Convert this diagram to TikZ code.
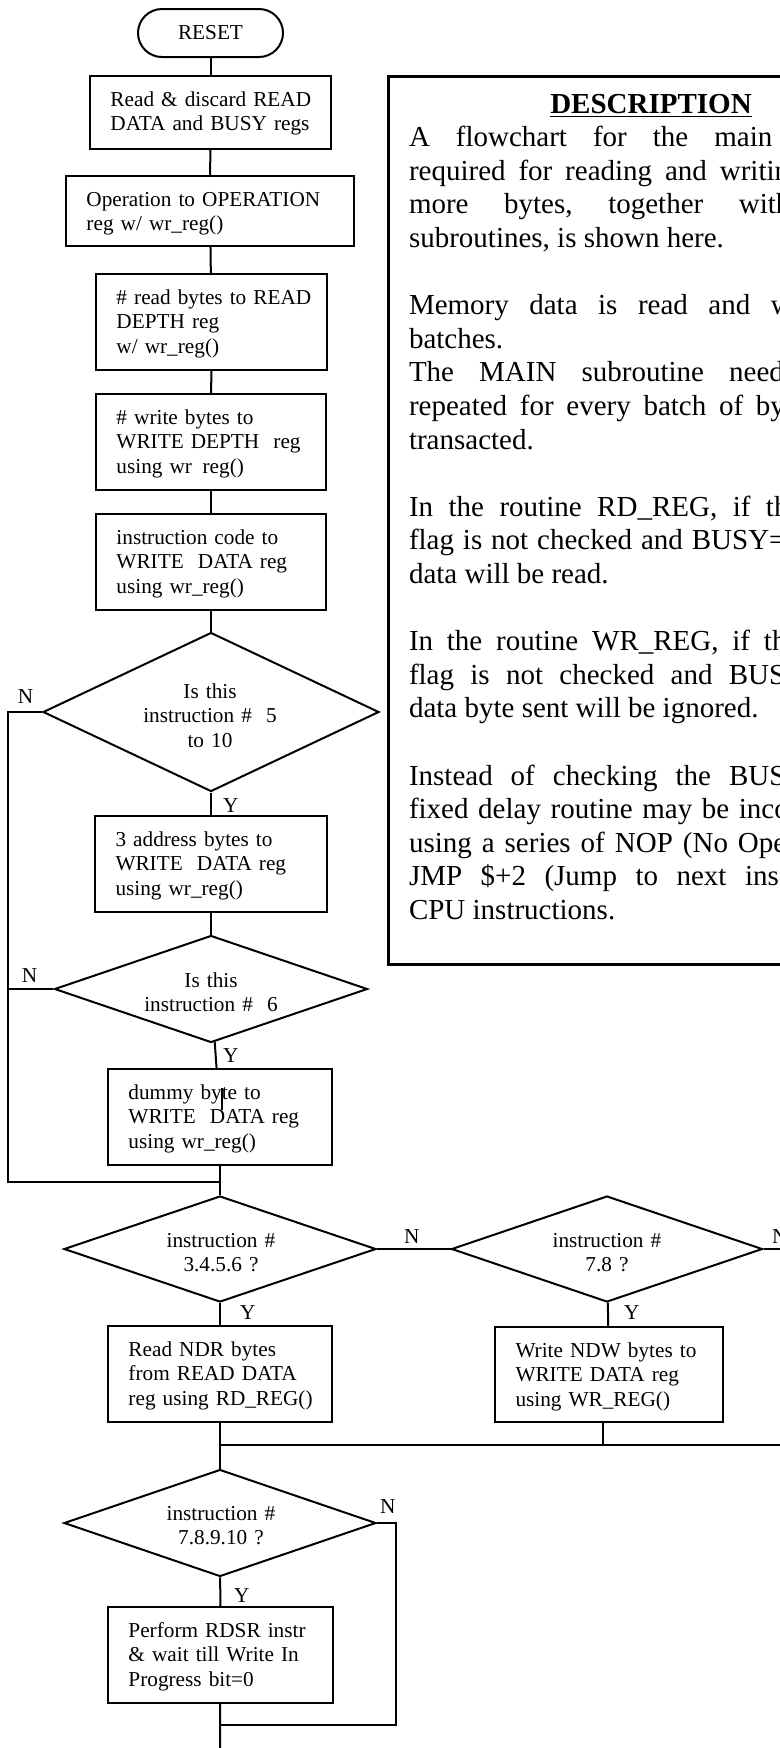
\documentclass[tikz,border=0pt]{standalone}
\usepackage{fontspec}
\setmainfont{Liberation Serif}
\usetikzlibrary{shapes.geometric}
\newdimen\pu \pu=0.4pt
\frenchspacing

\begin{document}
\begin{tikzpicture}[x=0.4pt,y=-0.4pt,line width=0.8pt,
  flow/.style={font=\fontsize{8.5}{9.84}\selectfont},
  desc/.style={font=\fontsize{11.6}{13.44}\selectfont},
  term/.style={flow,draw,rectangle,rounded corners=9.6pt,minimum width=58pt,minimum height=19.2pt,inner sep=0pt},
  pbox/.style 2 args={flow,draw,rectangle,anchor=north,inner xsep=8.2pt,inner ysep=0pt,align=left,text width=#1,text height=12pt,text depth=#2},
  dia/.style 2 args={draw,diamond,inner sep=0pt,minimum width=#1,minimum height=#2},
  dtxt/.style={flow,align=center,text width=64pt,anchor=base,inner sep=0pt},
  lab/.style={flow,anchor=base west,inner sep=0pt},
  dline/.style={desc,anchor=base west,inner sep=0pt}]
  \useasboundingbox (0,0) rectangle (780,1748);
  \clip (0,0) rectangle (780,1748);

  \node[draw,line width=1.1pt,anchor=north west,inner sep=0pt,minimum width=211.2pt,minimum height=355.2pt] (desc) at (387,75) {};
  \node[desc,anchor=base,inner sep=0pt] (dhead) at (651,113) {\bfseries\underline{DESCRIPTION}};
  \foreach \k/\g/\t in {1/26/{A flowchart for the main},
    2/12.9/{required for reading and writin},
    3/35.6/{more bytes, together with},
    4/0/{subroutines, is shown here.},
    6/20.5/{Memory data is read and w},
    7/0/{batches.},
    8/25.1/{The MAIN subroutine need},
    9/12.7/{repeated for every batch of by},
    10/0/{transacted.},
    12/15.5/{In the routine RD\_REG, if th},
    13/8.9/{flag is not checked and BUSY=},
    14/0/{data will be read.},
    16/13.8/{In the routine WR\_REG, if th},
    17/16.3/{flag is not checked and BUS},
    18/0/{data byte sent will be ignored.},
    20/18/{Instead of checking the BUS},
    21/9.6/{fixed delay routine may be inco},
    22/10/{using a series of NOP (No Ope},
    23/18.5/{JMP \$+2 (Jump to next ins},
    24/0/{CPU instructions.}}
    \node[dline] (dl\k) at (408,113+33.6*\k) {\spaceskip=\g\pu\relax\t};

  \node[term] (rst) at (210.5,33) {RESET};
  \node[pbox={80pt}{17.2pt}] (b1) at (210.5,75) {\mbox{Read \& discard READ}\\DATA and BUSY regs};
  \node[pbox={98.8pt}{16pt}] (b2) at (210,175) {Operation to OPERATION\\reg w/ wr\_reg()};
  \node[pbox={76pt}{26.4pt}] (b3) at (211.5,273) {\mbox{\# read bytes to READ}\\DEPTH reg\\w/ wr\_reg()};
  \node[pbox={75.6pt}{26.4pt}] (b4) at (211,393) {\# write bytes to\\WRITE DEPTH~ reg\\using wr\phantom{\_}reg()};
  \node[pbox={75.6pt}{26.4pt}] (b5) at (211,513) {instruction code to\\WRITE~ DATA reg\\using wr\_reg()};
  \node[dia={134.4pt}{63.6pt}] (d1) at (211,712) {};
  \node[dtxt] (t1) at (210,698) {Is this\\instruction \#~ 5\\to 10};
  \node[pbox={76.4pt}{26.4pt}] (b6) at (211,815) {3 address bytes to\\WRITE~ DATA reg\\using wr\_reg()};
  \node[dia={125.2pt}{42.8pt}] (d2) at (211,989) {};
  \node[dtxt] (t2) at (211,987) {Is this\\instruction \#~ 6};
  \node[pbox={73.2pt}{26.4pt}] (b7) at (220,1068) {dummy byte to\\WRITE~ DATA reg\\using wr\_reg()};
  \node[dia={124.8pt}{42.4pt}] (d3) at (220,1249) {};
  \node[dtxt] (t3) at (221,1247) {instruction \#\\3.4.5.6 ?};
  \node[dia={124.4pt}{42.4pt}] (d4) at (607,1249) {};
  \node[dtxt] (t4) at (607,1247) {instruction \#\\7.8 ?};
  \node[pbox={73.2pt}{26.4pt}] (b8) at (220,1325) {Read NDR bytes\\from READ DATA\\\mbox{reg using RD\_REG()}};
  \node[pbox={74.8pt}{26pt}] (b9) at (609,1326) {Write NDW bytes to\\WRITE DATA reg\\using WR\_REG()};
  \node[dia={124.8pt}{42.8pt}] (d5) at (220,1523) {};
  \node[dtxt] (t5) at (221,1520) {instruction \#\\7.8.9.10 ?};
  \node[pbox={73.6pt}{26.4pt}] (b10) at (220.5,1606) {Perform RDSR instr\\\& wait till Write In\\Progress bit=0};

  \foreach \n/\l/\x/\y in {n1/N/17/703,y1/Y/222/812,n2/N/21/982,y2/Y/222/1062,n3/N/403/1243,
    y3/Y/239/1319,n4/N/771/1243,y4/Y/623/1319,n5/N/379/1513,y5/Y/233/1602}
    \node[lab] (\n) at (\x,\y) {\l};

  \coordinate (railb) at (8,1182);
  \coordinate (jn) at (220,1182);
  \coordinate (exitr) at (780,1249);
  \coordinate (jm) at (220,1445);
  \coordinate (jmr) at (780,1445);
  \coordinate (rr) at (396,1725);
  \coordinate (jb) at (220,1725);
  \coordinate (endb) at (220,1748);

  \draw (rst) -- (b1);
  \draw (b1) -- (b2);
  \draw (b2) -- (b3);
  \draw (b3) -- (b4);
  \draw (b4) -- (b5);
  \draw (b5) -- (d1);
  \draw (d1) -- (b6);
  \draw (b6) -- (d2);
  \draw (d2) -- (b7);
  \draw (d1.west) -| (railb) -- (jn);
  \draw (d2.west) -- (d2.west -| railb);
  \draw (b7) -- (d3);
  \draw (d3.east) -- (d4.west);
  \draw (d4.east) -- (exitr);
  \draw (d3) -- (b8);
  \draw (d4) -- (b9);
  \draw ([xshift=-2.4pt]b9.south) |- (jmr);
  \draw (jm) -- (jmr);
  \draw (b8) -- (d5);
  \draw (d5.east) -| (rr) -- (jb);
  \draw (d5) -- (b10);
  \draw (b10) -- (endb);
  \draw (222,1088) -- (222,1110);
\end{tikzpicture}
\end{document}
